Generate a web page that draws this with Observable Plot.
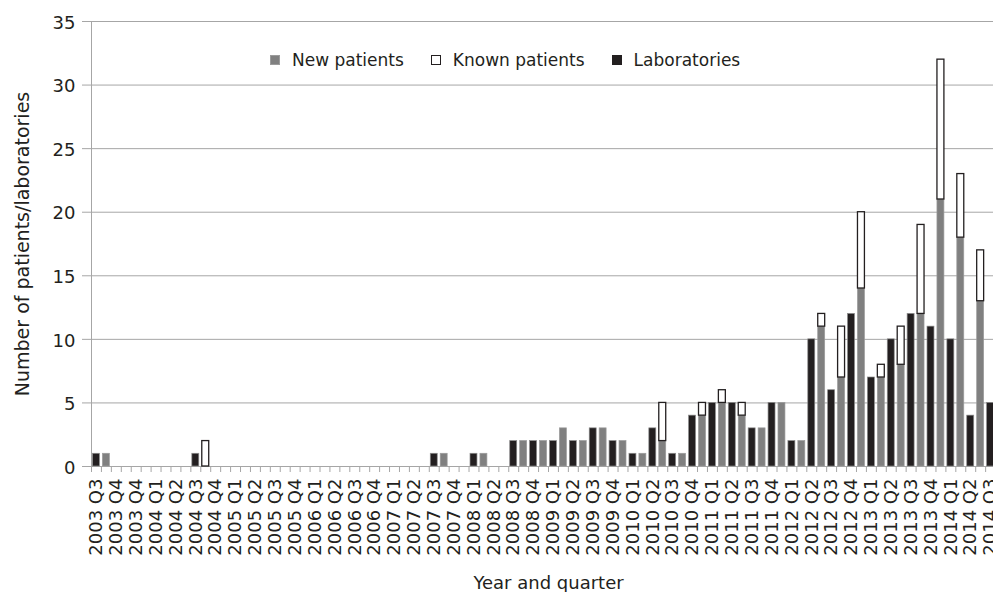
<!DOCTYPE html>
<html><head><meta charset="utf-8">
<script src="https://cdn.jsdelivr.net/npm/d3@7"></script>
<script src="https://cdn.jsdelivr.net/npm/@observablehq/plot@0.6"></script>
<style>
html,body{margin:0;padding:0;background:#fff;overflow:hidden;}
#wrap{position:relative;width:993px;height:592px;font-family:"DejaVu Sans",sans-serif;color:#231f20;}
#legend{position:absolute;left:270px;top:50px;display:flex;align-items:center;font-size:17px;line-height:20px;}
.item{display:flex;align-items:center;margin-right:27px;}
.sw{width:10px;height:10px;box-sizing:border-box;margin-right:12px;}
</style></head><body><div id="wrap"></div>
<script>
// Category labels shown under the axis (one per pair of bars)
const quarterLabels = ["2003 Q3","2003 Q4","2003 Q4","2004 Q1","2004 Q2","2004 Q3","2004 Q4","2005 Q1","2005 Q2","2005 Q3","2005 Q4","2006 Q1","2006 Q2","2006 Q3","2006 Q4","2007 Q1","2007 Q2","2007 Q3","2007 Q4","2008 Q1","2008 Q2","2008 Q3","2008 Q4","2009 Q1","2009 Q2","2009 Q3","2009 Q4","2010 Q1","2010 Q2","2010 Q3","2010 Q4","2011 Q1","2011 Q2","2011 Q3","2011 Q4","2012 Q1","2012 Q2","2012 Q3","2012 Q4","2013 Q1","2013 Q2","2013 Q3","2013 Q4","2014 Q1","2014 Q2","2014 Q3"];
const laboratories = [1,0,0,0,0,1,0,0,0,0,0,0,0,0,0,0,0,1,0,1,0,2,2,2,2,3,2,1,3,1,4,5,5,3,5,2,10,6,12,7,10,12,11,10,4,5];
const newPatients  = [1,0,0,0,0,0,0,0,0,0,0,0,0,0,0,0,0,1,0,1,0,2,2,3,2,3,2,1,2,1,4,5,4,3,5,2,11,7,14,7,8,12,21,18,13,null];
const knownPatients= [0,0,0,0,0,2,0,0,0,0,0,0,0,0,0,0,0,0,0,0,0,0,0,0,0,0,0,0,3,0,1,1,1,0,0,0,1,4,6,1,3,7,11,5,4,null];
const seriesNames = ["New patients","Known patients","Laboratories"];
const seriesColors = ["#808080","#ffffff","#231f20"];
const yTicks = [0,5,10,15,20,25,30,35];

const keys = [];
quarterLabels.forEach((q,i)=>{keys.push(`L${i}`); keys.push(`P${i}`);});
const rows = quarterLabels.map((q,i)=>({i, q, lab: laboratories[i], nw: newPatients[i], kn: knownPatients[i]}));
const labelOf = new Map(rows.map(r=>[`L${r.i}`, r.q]));
const W = 993, ML = 91, MR = -12;
const step = (W - MR - ML) / keys.length;

const chart = Plot.plot({
  width: W, height: 592,
  marginTop: 21, marginBottom: 126, marginLeft: ML, marginRight: MR,
  style: {fontFamily: "DejaVu Sans", color: "#231f20", background: "white", overflow: "hidden"},
  x: {domain: keys, paddingInner: 0.3, paddingOuter: 0.15},
  y: {domain: [0, 35]},
  marks: [
    Plot.gridY(yTicks, {stroke: "#a6a6a6", strokeOpacity: 1}),
    Plot.axisY(yTicks, {tickSize: 9, tickFormat: () => "", stroke: "#a6a6a6", strokeOpacity: 1,
      label: "Number of patients/laboratories", labelAnchor: "center", labelOffset: 76, labelArrow: "none", fontSize: 19}),
    Plot.axisY(yTicks, {tickSize: 0, tickPadding: 16, fontSize: 18, dy: 1.5, label: null, fill: "#231f20"}),
    Plot.axisX(keys, {tickSize: 6, tickFormat: () => "", stroke: "#a6a6a6", strokeOpacity: 1, dx: -step/2, label: null}),
    Plot.axisX(keys.filter(k => k[0] === "L"), {tickSize: 0, tickPadding: 12, tickRotate: -90, fontSize: 18,
      tickFormat: k => labelOf.get(k), fill: "#231f20",
      label: "Year and quarter", labelAnchor: "center", labelOffset: 122, labelArrow: "none"}),
    Plot.ruleY([0], {stroke: "#a6a6a6"}),
    Plot.ruleX([keys[0]], {dx: -step/2, stroke: "#a6a6a6"}),
    Plot.barY(rows.filter(r => r.lab > 0), {x: r => `L${r.i}`, y1: 0, y2: "lab", fill: seriesColors[2], stroke: "#8a8a8a", strokeWidth: 0.7}),
    Plot.barY(rows.filter(r => r.nw > 0), {x: r => `P${r.i}`, y1: 0, y2: "nw", fill: seriesColors[0], stroke: "#9b9b9b", strokeWidth: 0.7}),
    Plot.barY(rows.filter(r => r.kn > 0), {x: r => `P${r.i}`, y1: r => r.nw || 0, y2: r => (r.nw || 0) + r.kn, fill: seriesColors[1], stroke: "#231f20", strokeWidth: 1.3})
  ]
});
const wrap = document.getElementById("wrap");
wrap.appendChild(chart);
const legend = document.createElement("div");
legend.id = "legend";
seriesNames.forEach((name, i) => {
  const it = document.createElement("div"); it.className = "item";
  const sw = document.createElement("div"); sw.className = "sw";
  sw.style.background = seriesColors[i];
  sw.style.border = i === 1 ? "1px solid #231f20" : "1px solid " + (i === 0 ? "#9b9b9b" : "#231f20");
  const tx = document.createElement("span"); tx.textContent = name;
  it.appendChild(sw); it.appendChild(tx); legend.appendChild(it);
});
wrap.appendChild(legend);
</script></body></html>
